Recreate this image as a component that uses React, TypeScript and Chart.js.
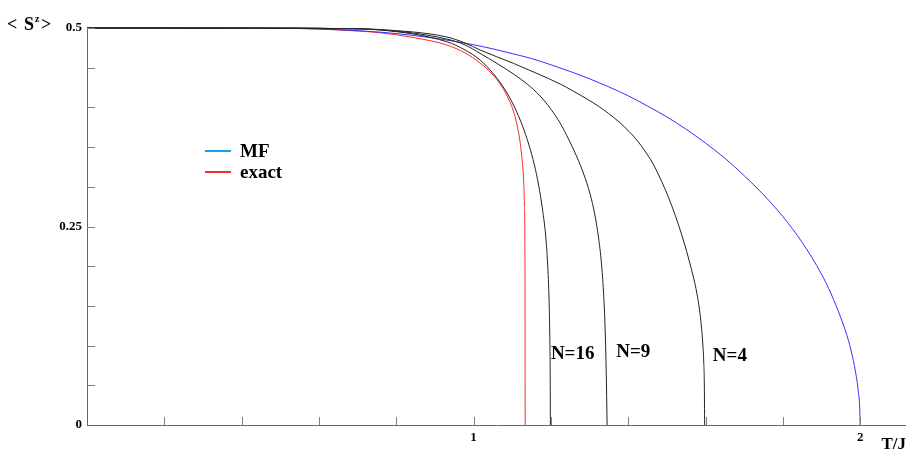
import React, { useEffect, useRef } from 'react';
import { Chart, registerables } from 'chart.js';

Chart.register(...registerables);

// Mean-field curve
const mfT = [0, 0.4, 0.5, 0.55, 0.65, 0.758, 0.8, 0.9, 1.0, 1.05, 1.1, 1.15, 1.2, 1.25, 1.3, 1.35, 1.4, 1.45, 1.5, 1.55, 1.6, 1.65, 1.7, 1.75, 1.8, 1.85, 1.9, 1.925, 1.95, 1.97, 1.98, 1.99, 1.995, 1.999, 2.0];
const mfM = [0.5, 0.5, 0.4997, 0.4993, 0.4978, 0.4948, 0.493, 0.4871, 0.4789, 0.4737, 0.4678, 0.4615, 0.4537, 0.4452, 0.436, 0.4258, 0.4146, 0.4017, 0.388, 0.3724, 0.355, 0.336, 0.314, 0.29, 0.2625, 0.23, 0.19, 0.165, 0.135, 0.106, 0.0866, 0.0612, 0.0433, 0.0194, 0];

// Exact curve
const exactT = [0, 0.55, 0.65, 0.758, 0.85, 0.9307, 0.978, 1.0168, 1.0479, 1.0686, 1.0867, 1.1022, 1.1125, 1.1203, 1.1255, 1.1294, 1.1315, 1.1327, 1.1331, 1.1334];
const exactM = [0.5, 0.4995, 0.4975, 0.494, 0.4875, 0.4786, 0.4685, 0.4559, 0.4421, 0.4295, 0.4144, 0.3967, 0.3778, 0.3564, 0.3338, 0.3086, 0.2771, 0.233, 0.1574, 0];

// Finite clusters
const n16T = [0, 0.55, 0.65, 0.758, 0.9307, 0.978, 1.0168, 1.0538, 1.0818, 1.1058, 1.1257, 1.1433, 1.1573, 1.1682, 1.1785, 1.1863, 1.1917, 1.1953, 1.1971, 1.1982, 1.1987];
const n16M = [0.5, 0.4998, 0.4992, 0.4975, 0.4827, 0.4723, 0.4597, 0.4408, 0.4219, 0.4005, 0.3778, 0.3526, 0.3275, 0.3023, 0.2708, 0.2393, 0.2015, 0.1574, 0.1134, 0.063, 0];

const n9T = [0, 0.55, 0.65, 0.758, 0.9307, 0.978, 1.0168, 1.0608, 1.103, 1.1384, 1.1721, 1.2005, 1.2238, 1.2468, 1.2662, 1.2849, 1.3014, 1.3138, 1.3234, 1.3307, 1.3361, 1.3397, 1.342, 1.3439, 1.3454];
const n9M = [0.5, 0.4998, 0.4992, 0.4978, 0.4861, 0.4786, 0.4681, 0.4553, 0.4421, 0.4295, 0.4144, 0.3974, 0.3804, 0.3589, 0.3388, 0.3161, 0.2909, 0.2645, 0.2355, 0.204, 0.1675, 0.1297, 0.0907, 0.0466, 0];

const n4T = [0, 0.55, 0.65, 0.758, 0.9307, 0.978, 1.0168, 1.103, 1.1643, 1.2238, 1.2574, 1.2911, 1.3221, 1.3493, 1.3765, 1.4023, 1.4243, 1.4432, 1.4631, 1.4799, 1.4963, 1.5138, 1.5294, 1.5465, 1.5565, 1.5679, 1.5775, 1.5845, 1.5892, 1.5928, 1.5954, 1.5969, 1.5977];
const n4M = [0.5, 0.4998, 0.4993, 0.498, 0.4887, 0.4811, 0.4723, 0.4555, 0.4427, 0.4295, 0.4207, 0.4112, 0.4018, 0.3923, 0.3816, 0.3696, 0.3577, 0.3451, 0.33, 0.3136, 0.296, 0.2746, 0.2531, 0.2267, 0.2091, 0.1877, 0.1662, 0.1448, 0.1247, 0.1033, 0.0793, 0.0504, 0];

const xTickLabels = ['1', '2'];
const yTickLabels = ['0', '0.25', '0.5'];
const legendLabels = ['MF', 'exact'];
const curveLabels = ['N=16', 'N=9', 'N=4'];

const pts = (t: number[], m: number[]) => t.map((x, i) => ({ x, y: m[i] }));
const fmt = (v: number) => String(Math.round(v * 1000) / 1000);

const SERIF = '"Liberation Serif", "Times New Roman", serif';

const decor = {
  id: 'decor',
  afterDraw(chart: any) {
    const { ctx, chartArea: a } = chart;
    const xs = chart.scales.x;
    const ys = chart.scales.y;
    ctx.save();
    // inward ticks
    ctx.strokeStyle = '#808080';
    ctx.lineWidth = 1;
    ctx.beginPath();
    xs.ticks.forEach((t: any) => {
      const v = t.value;
      const k = v / 0.2;
      if (v <= 1e-9 || Math.abs(k - Math.round(k)) > 1e-6) return;
      const px = Math.round(xs.getPixelForValue(v)) + 0.5;
      ctx.moveTo(px, a.bottom);
      ctx.lineTo(px, a.bottom - 8);
    });
    ys.ticks.forEach((t: any) => {
      const v = t.value;
      const k = v / 0.05;
      if (v <= 1e-9 || Math.abs(k - Math.round(k)) > 1e-6) return;
      const py = Math.round(ys.getPixelForValue(v)) + 0.5;
      ctx.moveTo(a.left, py);
      ctx.lineTo(a.left + 8, py);
    });
    ctx.stroke();

    ctx.fillStyle = '#000';
    // y axis title  < S^z >
    ctx.textBaseline = 'alphabetic';
    ctx.textAlign = 'left';
    ctx.font = `bold 18px ${SERIF}`;
    ctx.fillText('<', 7, 30);
    ctx.fillText('S', 24, 30);
    ctx.font = `bold 10px ${SERIF}`;
    ctx.fillText('z', 35, 22);
    ctx.font = `bold 18px ${SERIF}`;
    ctx.fillText('>', 41, 30);

    // x axis title
    ctx.font = `bold 17px ${SERIF}`;
    ctx.textAlign = 'right';
    ctx.fillText('T/J', 906, 449);

    // legend
    const legColors = ['#19a0f0', '#ee3030'];
    const legY = [151, 172];
    legendLabels.forEach((lab, i) => {
      ctx.strokeStyle = legColors[i];
      ctx.lineWidth = 2;
      ctx.beginPath();
      ctx.moveTo(205, legY[i]);
      ctx.lineTo(231, legY[i]);
      ctx.stroke();
      ctx.fillStyle = '#000';
      ctx.font = `bold 19px ${SERIF}`;
      ctx.textAlign = 'left';
      ctx.textBaseline = 'middle';
      ctx.fillText(lab, 240, legY[i] + 1);
    });

    // curve labels
    const anchors = [
      [1.2, 0.089],
      [1.369, 0.092],
      [1.619, 0.087],
    ];
    ctx.font = `bold 19px ${SERIF}`;
    ctx.textAlign = 'left';
    ctx.textBaseline = 'middle';
    curveLabels.forEach((lab, i) => {
      ctx.fillText(lab, xs.getPixelForValue(anchors[i][0]), ys.getPixelForValue(anchors[i][1]));
    });
    ctx.restore();
  },
};

export default function App() {
  const ref = useRef<HTMLCanvasElement | null>(null);
  useEffect(() => {
    if (!ref.current) return;
    const line = (label: string, data: any[], color: string) => ({
      label,
      data,
      borderColor: color,
      backgroundColor: color,
      borderWidth: 1,
      pointRadius: 0,
      fill: false,
      cubicInterpolationMode: 'monotone' as const,
      clip: false as const,
    });
    const chart = new Chart(ref.current, {
      type: 'line',
      data: {
        datasets: [
          line('N=4', pts(n4T, n4M), '#222222'),
          line('N=9', pts(n9T, n9M), '#222222'),
          line('N=16', pts(n16T, n16M), '#222222'),
          line('MF', pts(mfT, mfM), '#3030ff'),
          line('exact', pts(exactT, exactM), '#ff2a2a'),
        ],
      },
      options: {
        animation: false,
        responsive: false,
        maintainAspectRatio: false,
        devicePixelRatio: 1,
        layout: { padding: { left: 0, top: 28, right: 3, bottom: 0 } },
        plugins: { legend: { display: false }, tooltip: { enabled: false }, title: { display: false } },
        scales: {
          x: {
            type: 'linear',
            min: 0,
            max: 2.116,
            grid: { display: false, drawTicks: false },
            border: { display: true, color: '#666666', width: 1 },
            ticks: {
              stepSize: 0.2,
              includeBounds: false,
              autoSkip: false,
              maxRotation: 0,
              padding: 5,
              color: '#000',
              font: { family: SERIF, size: 13, weight: 'bold' },
              callback: (v: any) => (xTickLabels.includes(fmt(Number(v))) ? fmt(Number(v)) : ''),
            },
            afterFit: (s: any) => {
              s.height = 25;
            },
          },
          y: {
            type: 'linear',
            min: 0,
            max: 0.5,
            grid: { display: false, drawTicks: false },
            border: { display: true, color: '#666666', width: 1 },
            ticks: {
              stepSize: 0.05,
              autoSkip: false,
              padding: 5,
              color: '#000',
              font: { family: SERIF, size: 13, weight: 'bold' },
              callback: (v: any) => (yTickLabels.includes(fmt(Number(v))) ? fmt(Number(v)) : ''),
            },
            afterFit: (s: any) => {
              s.width = 87;
            },
          },
        },
      },
      plugins: [decor],
    });
    return () => chart.destroy();
  }, []);
  return (
    <div style={{ position: 'absolute', left: 0, top: 0, width: 908, height: 450, background: '#fff' }}>
      <canvas ref={ref} width={908} height={450} style={{ display: 'block' }} />
    </div>
  );
}
